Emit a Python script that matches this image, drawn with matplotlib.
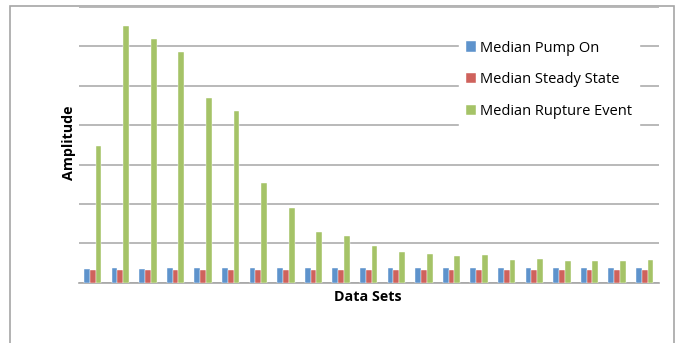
import matplotlib
matplotlib.use("Agg")
import matplotlib.pyplot as plt
from matplotlib.patches import Rectangle
import numpy as np

categories = [str(i) for i in range(1, 22)]
pump_on = [0.36, 0.38, 0.36, 0.38, 0.38, 0.38, 0.38, 0.38, 0.38, 0.38, 0.38,
           0.38, 0.38, 0.38, 0.38, 0.38, 0.38, 0.38, 0.38, 0.38, 0.38]
steady_state = [0.32] * 21
rupture_event = [3.48, 6.52, 6.19, 5.85, 4.69, 4.37, 2.54, 1.90, 1.29, 1.19, 0.93,
                 0.77, 0.74, 0.68, 0.70, 0.58, 0.61, 0.54, 0.54, 0.54, 0.58]
series_names = ["Median Pump On", "Median Steady State", "Median Rupture Event"]
colors = ["#5E93CC", "#CF625C", "#A5C367"]

plt.rcParams['font.family'] = ['Open Sans', 'DejaVu Sans']

W, H = 679, 343
fig = plt.figure(figsize=(W / 100, H / 100), dpi=100)
fig.patch.set_facecolor("white")

# outer chart border
fig.add_artist(Rectangle((10 / W, -0.05), (674 - 10) / W, (343 - 6) / H + 0.05,
                         transform=fig.transFigure, fill=False,
                         edgecolor="#a6a6a6", lw=1.2))

left, right, bottom, top = 79 / W, 658.5 / W, (H - 282.7) / H, (H - 7) / H
ax = fig.add_axes([left, bottom, right - left, top - bottom])

x = np.arange(len(categories))
bw = 0.21
for k, (vals, name, c) in enumerate(zip([pump_on, steady_state, rupture_event], series_names, colors)):
    ax.bar(x + (k - 1) * bw, vals, width=bw, color=c, label=name, zorder=3,
           edgecolor="white", linewidth=0.3)

ax.set_xlim(-0.5, len(categories) - 0.5)
ax.set_ylim(0, 7)
ax.set_yticks(range(0, 8))
ax.yaxis.grid(True, color="#a6a6a6", lw=1.1, zorder=0)
ax.set_axisbelow(True)
ax.tick_params(axis="both", length=0, labelleft=False, labelbottom=False)
for s in ["left", "right", "top"]:
    ax.spines[s].set_visible(False)
ax.spines["bottom"].set_color("#a6a6a6")
ax.spines["bottom"].set_linewidth(1.2)

fig.text(368 / W, 1 - 297 / H, "Data Sets", ha="center", va="center",
         fontsize=10.3, fontweight="bold")
fig.text(69 / W, 1 - 143 / H, "Amplitude", ha="center", va="center",
         rotation=90, fontsize=10.3, fontweight="bold")

leg = ax.legend(loc="upper left", bbox_to_anchor=(459 / W, 1 - 34 / H),
                bbox_transform=fig.transFigure, frameon=True, fancybox=False,
                edgecolor="white", facecolor="white", framealpha=1,
                fontsize=10.5, handlelength=0.7, handleheight=0.7,
                handletextpad=0.3, labelspacing=1.15, borderpad=0.45,
                borderaxespad=0)
leg.set_zorder(5)

fig.savefig("out.png", dpi=100, facecolor="white")
